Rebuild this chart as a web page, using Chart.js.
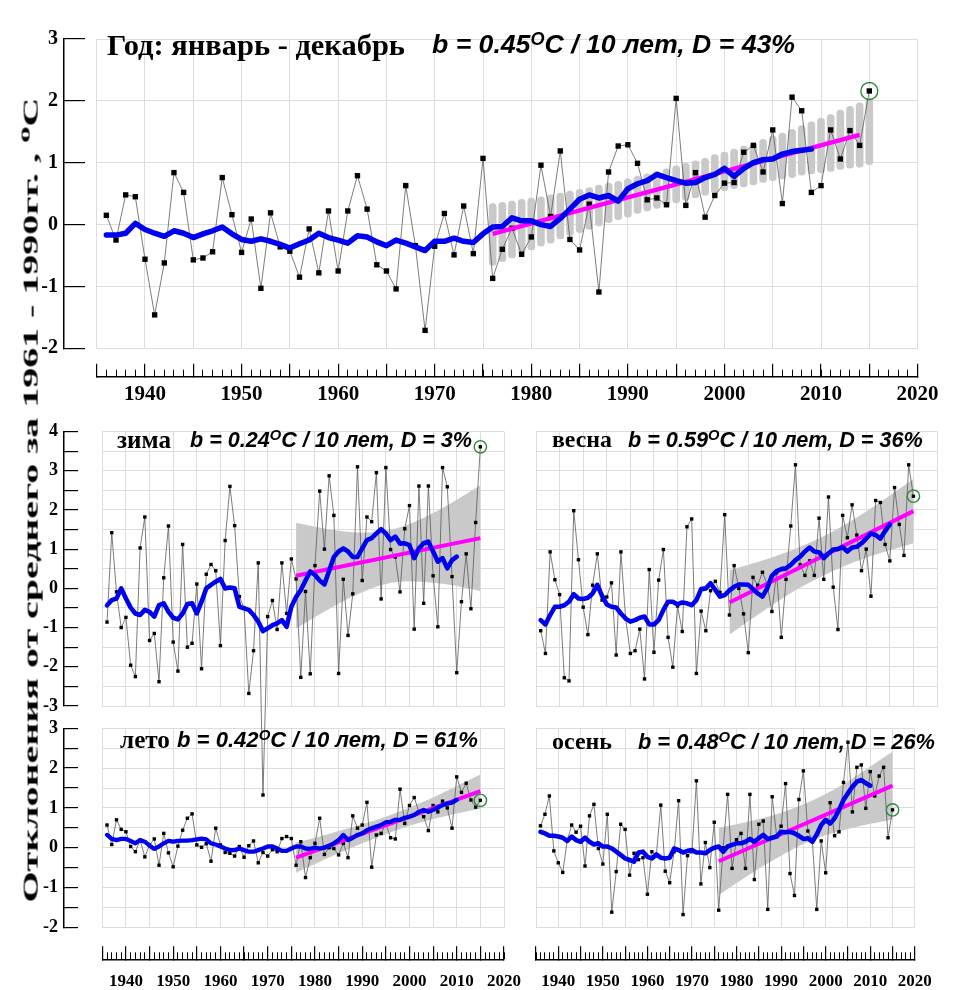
<!DOCTYPE html>
<html lang="ru">
<head>
<meta charset="utf-8">
<title>Аномалии температуры воздуха</title>
<script src="https://cdn.jsdelivr.net/npm/chart.js@4.4.1/dist/chart.umd.min.js"></script>
<style>
  html, body { margin:0; padding:0; background:#fff; }
  #stage { position:relative; width:957px; height:990px; overflow:hidden; background:#fff; }
  #plots canvas { position:absolute; left:0; top:0; }
  .lbl { position:absolute; white-space:nowrap; line-height:1; color:#000; }
  .ser { font-family:'Liberation Serif','Times New Roman',serif; font-weight:bold; }
  .ita { font-family:'Liberation Sans',Arial,sans-serif; font-weight:bold; font-style:italic; }
  .lbl sup { font-size:0.68em; line-height:0; vertical-align:0.45em; }
  #ytitle { position:absolute; white-space:nowrap; line-height:1; left:0; top:0; transform-origin:50% 50%; }
</style>
</head>
<body>
<div id="stage">
  <div id="plots"></div>

  <div class="lbl ser fit" data-x="107" data-y="45" data-w="298">Год: январь - декабрь</div>
  <div class="lbl ita fit" data-x="432" data-y="44" data-w="363">b = 0.45<sup>O</sup>C / 10 лет, D = 43%</div>

  <div class="lbl ser fit" data-x="117" data-y="440" data-w="54">зима</div>
  <div class="lbl ita fit" data-x="190" data-y="440" data-w="282">b = 0.24<sup>O</sup>C / 10 лет, D = 3%</div>

  <div class="lbl ser fit" data-x="552" data-y="440" data-w="60">весна</div>
  <div class="lbl ita fit" data-x="628" data-y="440" data-w="295">b = 0.59<sup>O</sup>C / 10 лет, D = 36%</div>

  <div class="lbl ser fit" data-x="120" data-y="740" data-w="50">лето</div>
  <div class="lbl ita fit" data-x="177" data-y="740" data-w="301">b = 0.42<sup>O</sup>C / 10 лет, D = 61%</div>

  <div class="lbl ser fit" data-x="552" data-y="742" data-w="60">осень</div>
  <div class="lbl ita fit" data-x="638" data-y="742" data-w="297">b = 0.48<sup>O</sup>C / 10 лет, D = 26%</div>

  <div id="ytitle" class="ser">Отклонения от среднего за 1961 - 1990гг. , <sup>o</sup>C</div>
</div>

<script>
  /* ━━━━  DATA  ━━━━ */
  const FIRST_YEAR = 1936;
  const LAST_YEAR  = 2015;
  const YEARS = Array.from({ length: LAST_YEAR - FIRST_YEAR + 1 }, (_, i) => FIRST_YEAR + i);

  const BAND_YEARS_YEAR   = YEARS.filter(y => y >= 1976);             // one capsule per year
  const BAND_YEARS_SEASON = [1976, 1980, 1985, 1990, 1995, 2000, 2005, 2010, 2015];
  const TREND_YEARS_YEAR   = [1976, 2014];
  const TREND_YEARS_SEASON = [1976, 2015];

  // год: январь - декабрь
  const YEAR_ANOMALY = [
     0.15,-0.25, 0.48, 0.45,-0.56,-1.46,-0.62, 0.84, 0.52,-0.57,
    -0.54,-0.44, 0.76, 0.16,-0.45, 0.09,-1.03, 0.19,-0.36,-0.43,
    -0.85,-0.07,-0.78, 0.22,-0.75, 0.22, 0.79, 0.25,-0.65,-0.75,
    -1.04, 0.63,-0.34,-1.71,-0.35, 0.18,-0.49, 0.30,-0.47, 1.07,
    -0.87,-0.40,-0.06,-0.48,-0.20, 0.96, 0.13, 1.19,-0.24,-0.41,
     0.33,-1.09, 0.85, 1.27, 1.29, 0.99, 0.40, 0.43, 0.32, 2.04,
     0.31, 0.84, 0.12, 0.47, 0.67, 0.68, 1.17, 1.28, 0.85, 1.53,
     0.34, 2.06, 1.84, 0.52, 0.63, 1.53, 1.06, 1.52, 1.28, 2.16
  ];
  const YEAR_SMOOTH = [
    -0.17,-0.17,-0.14, 0.02,-0.08,-0.14,-0.19,-0.10,-0.14,-0.21,
    -0.15,-0.10,-0.04,-0.15,-0.24,-0.27,-0.23,-0.27,-0.32,-0.38,
    -0.31,-0.25,-0.14,-0.21,-0.25,-0.30,-0.18,-0.20,-0.28,-0.34,
    -0.25,-0.30,-0.36,-0.42,-0.27,-0.27,-0.22,-0.27,-0.29,-0.15,
    -0.04,-0.03, 0.11, 0.06, 0.06, 0.00,-0.03, 0.10, 0.25, 0.41,
     0.48, 0.43, 0.47, 0.38, 0.58, 0.66, 0.71, 0.81, 0.76, 0.71,
     0.67, 0.68, 0.76, 0.81, 0.91, 0.78, 0.91, 1.00, 1.05, 1.06,
     1.14, 1.18, 1.20, 1.22
  ];
  const YEAR_TREND = [-0.15, 1.45];
  const YEAR_BAND_LO = [
    -0.66,-0.60,-0.54,-0.47,-0.41,-0.35,-0.30,-0.23,-0.18,-0.13,
    -0.08,-0.02, 0.03, 0.08, 0.12, 0.18, 0.22, 0.26, 0.30, 0.35,
     0.39, 0.43, 0.47, 0.51, 0.55, 0.58, 0.61, 0.64, 0.68, 0.71,
     0.74, 0.76, 0.80, 0.82, 0.84, 0.86, 0.89, 0.91, 0.93, 0.97
  ];
  const YEAR_BAND_HI = [
     0.34, 0.36, 0.38, 0.41, 0.43, 0.45, 0.48, 0.51, 0.54, 0.57,
     0.60, 0.64, 0.67, 0.70, 0.74, 0.78, 0.82, 0.86, 0.90, 0.95,
     0.99, 1.03, 1.07, 1.13, 1.17, 1.22, 1.27, 1.32, 1.38, 1.43,
     1.48, 1.54, 1.60, 1.66, 1.72, 1.78, 1.85, 1.91, 1.97, 2.03
  ];

  // зима
  const WINTER_ANOMALY = [
    -0.86, 1.42,-0.09,-1.00,-0.74,-1.96,-2.25, 1.03, 1.82,-1.33,
    -1.15,-2.38, 0.27, 1.59,-1.37,-2.11, 1.12,-1.50,-1.40, 0.11,
    -2.05, 0.36, 0.61, 0.45,-1.46, 1.22, 2.60, 1.60,-0.21,-0.50,
    -2.68,-1.59, 0.65,-5.27,-0.72,-0.31,-1.05, 0.65,-0.64, 0.75,
     0.24,-2.27,-0.08,-2.18, 0.58, 2.48, 1.00, 2.87, 1.86,-2.17,
     0.23,-1.20,-0.14, 3.10, 0.20, 1.82, 1.70, 2.95,-0.27, 3.08,
     0.99, 0.80,-0.09, 1.52, 2.11,-1.04, 2.61,-0.38, 2.61, 0.32,
    -0.98, 3.08, 2.59, 0.30,-2.15,-0.34, 0.88,-0.52, 1.68, 3.61
  ];
  const WINTER_SMOOTH = [
    -0.43,-0.30,-0.26, 0.00,-0.26,-0.49,-0.64,-0.68,-0.55,-0.60,
    -0.72,-0.43,-0.38,-0.60,-0.75,-0.79,-0.64,-0.40,-0.38,-0.64,
    -0.34, 0.00, 0.09, 0.17, 0.24, 0.00, 0.02, 0.00,-0.47,-0.51,
    -0.55,-0.68,-0.85,-1.09,-1.02,-0.94,-0.89,-0.81,-0.98,-0.47,
    -0.22,-0.04, 0.20, 0.43, 0.34, 0.20, 0.10, 0.45, 0.80, 0.94,
     1.02, 0.94, 0.80, 0.80, 1.02, 1.23, 1.28, 1.40, 1.51, 1.40,
     1.23, 1.32, 1.14, 1.15, 1.10, 0.77, 1.02, 1.15, 1.19, 0.94,
     0.68, 0.77, 0.51, 0.72, 0.81
  ];
  const WINTER_TREND   = [0.32, 1.28];
  const WINTER_BAND_LO = [-1.03,-0.73,-0.39,-0.10, 0.11, 0.18, 0.14, 0.06,-0.07];
  const WINTER_BAND_HI = [ 1.67, 1.57, 1.47, 1.42, 1.47, 1.64, 1.92, 2.26, 2.63];

  // весна
  const SPRING_ANOMALY = [
    -1.08,-1.66, 0.93, 0.22,-0.16,-2.28,-2.36, 1.98, 0.73,-0.48,
    -1.18, 0.08, 0.88,-0.30,-0.22, 0.14,-1.70, 0.93,-0.77,-1.66,
    -1.59,-1.04,-2.31, 0.48,-1.63, 0.21, 0.99,-1.25,-2.01,-0.45,
    -1.10, 1.57, 1.77,-2.17,-0.58,-1.08,-0.06, 0.18,-0.10, 1.88,
    -0.68, 0.58, 0.00,-0.65,-1.64, 0.28, 0.08, 0.41, 0.10,-0.59,
     0.40,-1.25, 0.23, 1.59, 3.15, 0.60, 0.33, 0.70, 0.33, 1.79,
     0.23, 2.33, 0.03,-1.05, 1.86, 1.29, 2.13, 1.36, 0.45, 1.00,
    -0.20, 2.24, 2.19, 1.12, 0.70, 2.57, 1.63, 0.84, 3.15, 2.35
  ];
  const SPRING_SMOOTH = [
    -0.81,-0.92,-0.68,-0.47,-0.47,-0.43,-0.34,-0.15,-0.26,-0.27,
    -0.24,-0.13, 0.09,-0.19,-0.41,-0.47,-0.49,-0.64,-0.77,-0.85,
    -0.81,-0.75,-0.72,-0.92,-0.92,-0.81,-0.55,-0.34,-0.34,-0.41,
    -0.36,-0.38,-0.43,-0.30,-0.02, 0.00, 0.13,-0.04,-0.21,-0.17,
    -0.05, 0.04, 0.10, 0.10, 0.09,-0.02,-0.13,-0.21, 0.00, 0.32,
     0.44, 0.49, 0.51, 0.60, 0.72, 0.81, 0.94, 1.04, 0.94, 0.92,
     0.77, 0.89, 0.99, 1.00, 1.05, 0.94, 1.04, 1.06, 1.15, 1.27,
     1.40, 1.36, 1.27, 1.46, 1.63
  ];
  const SPRING_TREND   = [-0.36, 1.97];
  const SPRING_BAND_LO = [-1.18,-0.84,-0.43,-0.05, 0.27, 0.55, 0.78, 0.97, 1.15];
  const SPRING_BAND_HI = [ 0.46, 0.60, 0.79, 1.01, 1.27, 1.59, 1.96, 2.37, 2.79];

  // лето
  const SUMMER_ANOMALY = [
     0.57, 0.08, 0.70, 0.46, 0.40, 0.03,-0.10, 0.19,-0.23, 0.07,
     0.22,-0.44, 0.36,-0.13,-0.48, 0.04, 0.44, 0.74, 0.85, 0.07,
     0.01, 0.10,-0.34, 0.49, 0.07,-0.12,-0.14,-0.21, 0.03,-0.24,
     0.05, 0.17,-0.38,-0.12,-0.21,-0.05,-0.10, 0.23, 0.28, 0.23,
    -0.44, 0.15,-0.75,-0.25, 0.11, 0.74,-0.17, 0.00,-0.02,-0.18,
     0.11,-0.25, 0.80, 0.49, 0.57, 1.14,-0.49, 0.32, 0.36, 0.60,
     0.25, 0.22, 1.47, 0.61, 1.06, 1.26, 0.90, 0.78, 0.43, 1.06,
     0.90, 1.17, 1.00, 0.49, 1.78, 1.39, 1.62, 1.20, 1.02, 1.19
  ];
  const SUMMER_SMOOTH = [
     0.32, 0.22, 0.19, 0.22, 0.22, 0.17, 0.11, 0.19, 0.15, 0.05,
    -0.03, 0.03, 0.11, 0.17, 0.15, 0.17, 0.18, 0.18, 0.19, 0.21,
     0.23, 0.21, 0.11, 0.08, 0.03,-0.02,-0.06,-0.06,-0.02,-0.06,
    -0.10,-0.10,-0.06,-0.02, 0.03, 0.03,-0.02,-0.08,-0.08,-0.02,
     0.03, 0.03,-0.02,-0.03, 0.00,-0.02, 0.00, 0.05, 0.11, 0.19,
     0.32, 0.19, 0.25, 0.32, 0.36, 0.44, 0.49, 0.53, 0.57, 0.64,
     0.65, 0.70, 0.70, 0.75, 0.78, 0.82, 0.90, 0.95, 0.90, 0.95,
     1.01, 1.07, 1.11, 1.13, 1.20
  ];
  const SUMMER_TREND   = [-0.25, 1.42];
  const SUMMER_BAND_LO = [-0.63,-0.41,-0.14, 0.11, 0.34, 0.55, 0.72, 0.86, 0.98];
  const SUMMER_BAND_HI = [ 0.13, 0.25, 0.42, 0.59, 0.78, 1.01, 1.26, 1.55, 1.84];

  // осень
  const AUTUMN_ANOMALY = [
     0.55, 0.84, 1.30,-0.08,-0.38,-0.62, 0.17, 0.57, 0.39, 0.54,
    -0.46, 0.80, 1.09,-0.02,-0.41, 0.84,-1.62,-0.60, 0.59, 0.46,
    -0.69,-0.14,-0.30,-0.25,-1.17,-0.10,-0.20, 1.07,-0.59,-0.88,
    -0.10, 1.18,-1.68,-0.20,-0.10, 1.68,-0.91, 0.13,-0.50, 0.64,
    -1.57, 0.00, 1.34,-0.52, 0.20, 0.36,-0.52, 1.34,-0.80, 0.59,
     0.67,-1.55, 1.28, 0.30, 0.54, 1.61,-0.65,-1.20, 1.21, 1.93,
     0.42, 0.20,-1.55, 0.17,-0.63, 1.13, 0.30, 0.40, 1.64, 2.65,
     0.90, 2.02, 2.08, 0.99, 1.91, 1.30, 1.80, 2.02, 0.25, 0.95
  ];
  const AUTUMN_SMOOTH = [
     0.40, 0.36, 0.30, 0.30, 0.28, 0.25, 0.17, 0.28, 0.19, 0.15,
     0.25, 0.15, 0.08, 0.11, 0.03, 0.03,-0.02,-0.10,-0.18,-0.27,
    -0.31,-0.35,-0.12,-0.10,-0.23,-0.27,-0.17,-0.25,-0.27,-0.25,
    -0.02,-0.06,-0.12,-0.08,-0.06,-0.12,-0.12,-0.14,-0.06, 0.00,
     0.03,-0.10, 0.03, 0.07, 0.11, 0.11, 0.15, 0.22, 0.15, 0.24,
     0.32, 0.22, 0.25, 0.28, 0.40, 0.39, 0.40, 0.36, 0.30, 0.22,
     0.24, 0.15, 0.33, 0.57, 0.70, 0.61, 0.74, 0.95, 1.20, 1.37,
     1.53, 1.66, 1.70, 1.62, 1.56
  ];
  const AUTUMN_TREND   = [-0.34, 1.56];
  const AUTUMN_BAND_LO = [-1.19,-0.89,-0.52,-0.20, 0.09, 0.31, 0.47, 0.60, 0.71];
  const AUTUMN_BAND_HI = [ 0.51, 0.59, 0.72, 0.88, 1.09, 1.35, 1.67, 2.04, 2.41];

  /* ━━━━  STYLE  ━━━━ */
  const W = 957, H = 990;
  const SERIF   = "'Liberation Serif', 'Times New Roman', serif";
  const GRID    = '#dddddd';
  const BAND    = '#c9c9c9';
  const RULER_W = 50;

  const PANELS = [
    { box:{ left:96.7, right:936.7, top:19.3, bottom:348.3 }, yMin:-2, yMax:3, gridStep:1,
      yRuler:{ x:64, step:1, tick:21, font:20 }, xRuler:{ y:376.7, h:40, font:21, pad:18.4 },
      annual:YEAR_ANOMALY, smooth:YEAR_SMOOTH, trendYears:TREND_YEARS_YEAR, trend:YEAR_TREND,
      band:{ bars:true, years:BAND_YEARS_YEAR, lo:YEAR_BAND_LO, hi:YEAR_BAND_HI },
      pt:3.8, ring:8.5, blueW:5.5, pinkW:4.5 },
    { box:{ left:102.3, right:504, top:431.5, bottom:706 }, yMin:-3, yMax:4, gridStep:0.5, dataMin:-5.5,
      yRuler:{ x:64, step:0.5, tick:14, font:18 },
      annual:WINTER_ANOMALY, smooth:WINTER_SMOOTH, trendYears:TREND_YEARS_SEASON, trend:WINTER_TREND,
      band:{ years:BAND_YEARS_SEASON, lo:WINTER_BAND_LO, hi:WINTER_BAND_HI },
      pt:2.4, ring:6.2, blueW:4.6, pinkW:4 },
    { box:{ left:536, right:937, top:431.5, bottom:706 }, yMin:-3, yMax:4, gridStep:0.5,
      annual:SPRING_ANOMALY, smooth:SPRING_SMOOTH, trendYears:TREND_YEARS_SEASON, trend:SPRING_TREND,
      band:{ years:BAND_YEARS_SEASON, lo:SPRING_BAND_LO, hi:SPRING_BAND_HI },
      pt:2.4, ring:6.2, blueW:4.6, pinkW:4 },
    { box:{ left:102.3, right:504, top:728.3, bottom:927.3 }, yMin:-2, yMax:3, gridStep:0.5,
      yRuler:{ x:64, step:0.5, tick:14, font:18 }, xRuler:{ y:959.3, h:30.7, font:17, pad:25.2 },
      annual:SUMMER_ANOMALY, smooth:SUMMER_SMOOTH, trendYears:TREND_YEARS_SEASON, trend:SUMMER_TREND,
      band:{ years:BAND_YEARS_SEASON, lo:SUMMER_BAND_LO, hi:SUMMER_BAND_HI },
      pt:2.4, ring:6.2, blueW:4.3, pinkW:4 },
    { box:{ left:536, right:937, top:728.3, bottom:927.3 }, yMin:-2, yMax:3, gridStep:0.5,
      xRuler:{ y:959.3, h:30.7, font:17, pad:25.2 },
      annual:AUTUMN_ANOMALY, smooth:AUTUMN_SMOOTH, trendYears:TREND_YEARS_SEASON, trend:AUTUMN_TREND,
      band:{ years:BAND_YEARS_SEASON, lo:AUTUMN_BAND_LO, hi:AUTUMN_BAND_HI },
      pt:2.4, ring:6.2, blueW:4.6, pinkW:4 }
  ];

  /* ━━━━  UTILS  ━━━━ */
  const xy = (xs, ys) => ys.map((y, i) => ({ x: xs[i], y }));

  function gapAxis(position, weight, size) {
    const horiz = position === 'bottom';
    return {
      type:'linear', position, weight, min:0, max:1, display:true, offset:false,
      ticks:{ display:false }, grid:{ display:false }, border:{ display:false },
      afterFit: s => { if (horiz) s.height = size; else s.width = size; }
    };
  }

  /* grid of the plot box plus the separate rulers */
  function frameScales(p) {
    const sc = {
      x: { type:'linear', position:'bottom', min:1935, max:2020, offset:false,
           ticks:{ display:false, stepSize:5, autoSkip:false },
           grid:{ color:GRID, lineWidth:1, drawTicks:false, offset:false },
           border:{ display:true, color:GRID },
           afterFit: s => { s.height = 0; } },
      y: { type:'linear', position:'left', min:p.yMin, max:p.yMax,
           ticks:{ display:false, stepSize:p.gridStep, autoSkip:false },
           grid:{ color:GRID, lineWidth:1, drawTicks:false },
           border:{ display:true, color:GRID },
           afterFit: s => { s.width = 0; } }
    };
    if (p.yRuler) {
      const r = p.yRuler;
      sc.ygap = gapAxis('left', 1, p.box.left - r.x);
      sc.yr = {
        type:'linear', position:'left', weight:2, min:p.yMin, max:p.yMax,
        ticks:{ stepSize:r.step, autoSkip:false, padding:r.tick + 6, color:'#000',
                font:{ family:SERIF, size:r.font, weight:'bold' },
                callback: v => Number.isInteger(v) ? String(v) : '' },
        grid:{ drawOnChartArea:false, drawTicks:true, tickLength:-r.tick, color:'#000', lineWidth:1.2 },
        border:{ display:true, color:'#000', width:1.5 },
        afterFit: s => { s.width = RULER_W; }
      };
    }
    if (p.xRuler) {
      const r = p.xRuler;
      sc.xgap = gapAxis('bottom', 1, r.y - p.box.bottom);
      sc.xm = {
        type:'linear', position:'bottom', weight:2, min:1935, max:2020, offset:false,
        ticks:{ display:false, stepSize:1, autoSkip:false },
        grid:{ drawOnChartArea:false, drawTicks:true, tickLength:-7, color:'#000', lineWidth:1, offset:false },
        border:{ display:false },
        afterFit: s => { s.height = 0; }
      };
      sc.xr = {
        type:'linear', position:'bottom', weight:3, min:1935, max:2020, offset:false,
        ticks:{ stepSize:5, autoSkip:false, maxRotation:0, padding:r.pad, color:'#000',
                font:{ family:SERIF, size:r.font, weight:'bold' },
                callback: v => v % 10 === 0 ? String(v) : '' },
        grid:{ drawOnChartArea:false, drawTicks:true, tickLength:-13, color:'#000', lineWidth:1.2, offset:false },
        border:{ display:true, color:'#000', width:1.5 },
        afterFit: s => { s.height = r.h; }
      };
    }
    return sc;
  }

  function framePadding(p) {
    return {
      left:   p.yRuler ? p.yRuler.x - RULER_W : p.box.left,
      right:  W - p.box.right,
      top:    p.box.top,
      bottom: p.xRuler ? H - (p.xRuler.y + p.xRuler.h) : H - p.box.bottom
    };
  }

  function dataSets(p) {
    const ax = { xAxisID:'x', yAxisID:'y' };
    const sets = [];
    if (p.band.bars) {
      sets.push({ ...ax, type:'bar', order:6,
        data: p.band.years.map((x, i) => ({ x, y:[p.band.lo[i], p.band.hi[i]] })),
        backgroundColor:BAND, barThickness:7, borderRadius:3.5, borderSkipped:false, borderWidth:0 });
    } else {
      sets.push({ ...ax, order:6, data: xy(p.band.years, p.band.lo), fill:false,
        borderColor:'rgba(0,0,0,0)', borderWidth:0, pointRadius:0, cubicInterpolationMode:'monotone' });
      sets.push({ ...ax, order:5, data: xy(p.band.years, p.band.hi), fill:'-1', backgroundColor:BAND,
        borderColor:'rgba(0,0,0,0)', borderWidth:0, pointRadius:0, cubicInterpolationMode:'monotone' });
    }
    sets.push({ ...ax, order:4, data: xy(YEARS, p.annual), clip:false,
      borderColor:'#5a5a5a', borderWidth:0.8, pointStyle:'rect', pointRadius:p.pt,
      pointBackgroundColor:'#000', pointBorderWidth:0 });
    sets.push({ ...ax, order:3, data: xy(p.trendYears, p.trend),
      borderColor:'#ff00ff', borderWidth:p.pinkW, pointRadius:0, borderCapStyle:'butt' });
    sets.push({ ...ax, order:2, data: xy(YEARS, p.smooth),
      borderColor:'#0000f0', borderWidth:p.blueW, pointRadius:0,
      borderJoinStyle:'round', borderCapStyle:'round' });
    const last = p.annual.length - 1;
    sets.push({ ...ax, order:1, data: [{ x: YEARS[last], y: p.annual[last] }], showLine:false,
      pointStyle:'circle', pointRadius:p.ring, pointBorderColor:'#2c8a3c', pointBorderWidth:1.4,
      pointBackgroundColor:'rgba(0,0,0,0)' });
    return sets;
  }

  function newCanvas() {
    const c = document.createElement('canvas');
    c.width = W; c.height = H;
    document.getElementById('plots').appendChild(c);
    return c;
  }

  function makeChart(scales, padding, datasets) {
    return new Chart(newCanvas(), {
      type:'line',
      data:{ datasets },
      options:{
        responsive:false, animation:false, devicePixelRatio:1, events:[],
        layout:{ padding, autoPadding:false },
        plugins:{ legend:{ display:false }, tooltip:{ enabled:false } },
        scales
      }
    });
  }

  /* ━━━━  INIT  ━━━━ */
  const overflow = [];
  PANELS.forEach(p => {
    if (p.dataMin === undefined) {
      makeChart(frameScales(p), framePadding(p), dataSets(p));
    } else {
      // frame only; the data goes on its own taller area so the 1969 winter
      // value can hang below the panel as in the original
      makeChart(frameScales(p), framePadding(p), []);
      overflow.push(p);
    }
  });
  overflow.forEach(p => {
    const unit = (p.box.bottom - p.box.top) / (p.yMax - p.yMin);
    const bottom = p.box.top + (p.yMax - p.dataMin) * unit;
    makeChart({
      x:{ type:'linear', min:1935, max:2020, display:false, offset:false },
      y:{ type:'linear', min:p.dataMin, max:p.yMax, display:false }
    }, { left:p.box.left, right:W - p.box.right, top:p.box.top, bottom:H - bottom }, dataSets(p));
  });

  /* ━━━━  TEXT  ━━━━ */
  document.querySelectorAll('.fit').forEach(el => {
    const base = parseFloat(getComputedStyle(el).fontSize);
    const w = el.getBoundingClientRect().width;
    el.style.fontSize = (base * (+el.dataset.w) / w).toFixed(2) + 'px';
    const h = el.getBoundingClientRect().height;
    el.style.left = el.dataset.x + 'px';
    el.style.top = (+el.dataset.y - h / 2) + 'px';
  });

  (function () {
    const t = document.getElementById('ytitle');
    t.style.fontSize = '21px';
    const r = t.getBoundingClientRect();
    t.style.left = (29 - r.width / 2) + 'px';
    t.style.top = (500 - r.height / 2) + 'px';
    t.style.transform = 'rotate(-90deg) scaleX(' + (805 / r.width).toFixed(3) + ')';
  })();
</script>
</body>
</html>
